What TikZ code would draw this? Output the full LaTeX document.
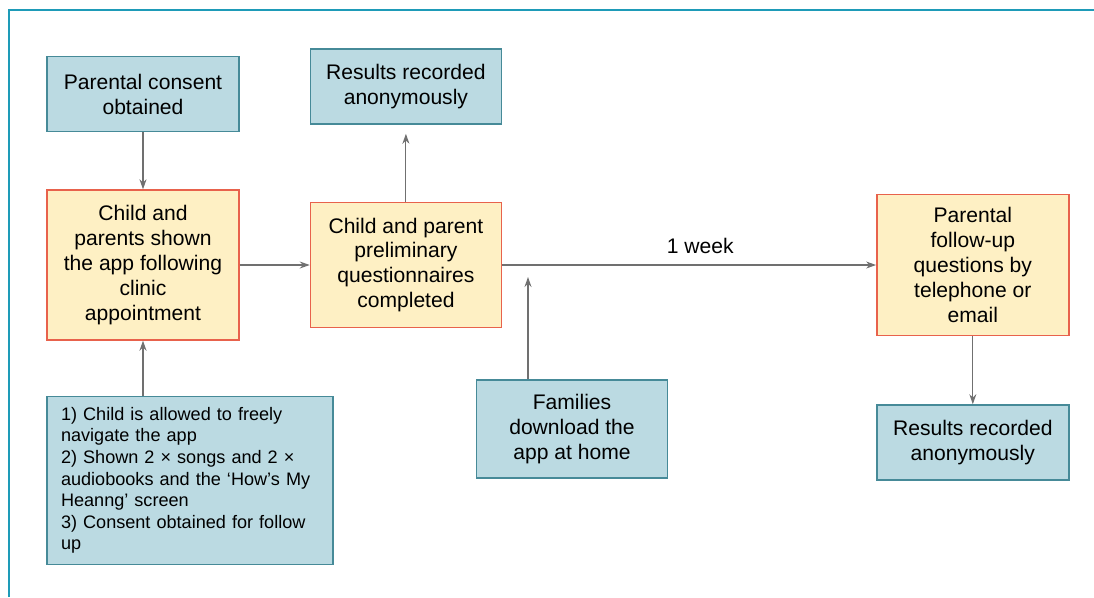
\documentclass[tikz,border=0pt]{standalone}
\usepackage{fontspec}
\setmainfont{Liberation Sans}
\usetikzlibrary{positioning,arrows.meta}

\definecolor{bluefill}{RGB}{187,218,226}
\definecolor{blueline}{RGB}{70,138,152}
\definecolor{yelfill}{RGB}{254,240,196}
\definecolor{redline}{RGB}{232,98,76}
\definecolor{arrgray}{RGB}{112,112,112}
\definecolor{frameblue}{RGB}{30,155,184}

\begin{document}
\begin{tikzpicture}[
font=\fontsize{12}{14.2}\selectfont,
infobox/.style={draw=blueline, fill=bluefill, line width=0.8pt, align=center, minimum width=3.84cm, minimum height=1.5cm, inner sep=2pt},
stagebox/.style={draw=redline, fill=yelfill, line width=0.8pt, align=center, minimum width=3.84cm, inner sep=2pt},
arr/.style={-{Stealth[length=2mm,width=1.4mm]}, draw=arrgray, line width=0.65pt}
]
\useasboundingbox (0,0) rectangle (21.88,-11.94);
\draw[frameblue, line width=1.4pt] (0.18,-11.94) -- (0.18,-0.2) -- (21.88,-0.2);

\node[stagebox, minimum height=3cm] (c2) at (2.86,-5.30) {Child and\\parents shown\\the app following\\clinic\\appointment};
\node[infobox, above=1.14cm of c2] (c1) {Parental consent\\obtained};
\node[infobox, minimum width=5.72cm, minimum height=3.36cm, text width=5.16cm, align=left, inner xsep=0.28cm,
  font=\fontsize{10.3}{12.3}\selectfont, below=1.1cm of c2.south west, anchor=north west] (c3)
  {1) Child is allowed to freely\\navigate the app\\2) Shown 2 × songs and 2 ×\\audiobooks and the ‘How’s My\\Heanng’ screen\\3) Consent obtained for follow\\up};
\node[stagebox, minimum width=3.82cm, minimum height=2.5cm, right=1.4cm of c2] (c4) {Child and parent\\preliminary\\questionnaires\\completed};
\node[infobox, minimum width=3.82cm, above=1.54cm of c4] (r1) {Results recorded\\anonymously};
\node[stagebox, minimum height=2.82cm, right=7.48cm of c4] (c5) {Parental\\follow-up\\questions by\\telephone or\\email};
\node[infobox, below=1.36cm of c5] (r2) {Results recorded\\anonymously};
\node[infobox, minimum width=3.82cm, minimum height=1.96cm] (f1) at (11.44,-8.58) {Families\\download the\\app at home};
\coordinate (dl) at (10.56,-5.30);

\draw[arr] (c1) -- (c2);
\draw[arr] (c2.south |- c3.north) -- (c2.south);
\draw[arr] (c2) -- (c4);
\draw[arr, shorten >=0.18cm] (c4) -- (r1);
\draw[arr] (c4) -- node[above=3pt, pos=0.53] {1 week} (c5);
\draw[arr, shorten >=0.24cm] (f1.north -| dl) -- (dl);
\draw[arr] (c5) -- (r2);
\end{tikzpicture}
\end{document}
